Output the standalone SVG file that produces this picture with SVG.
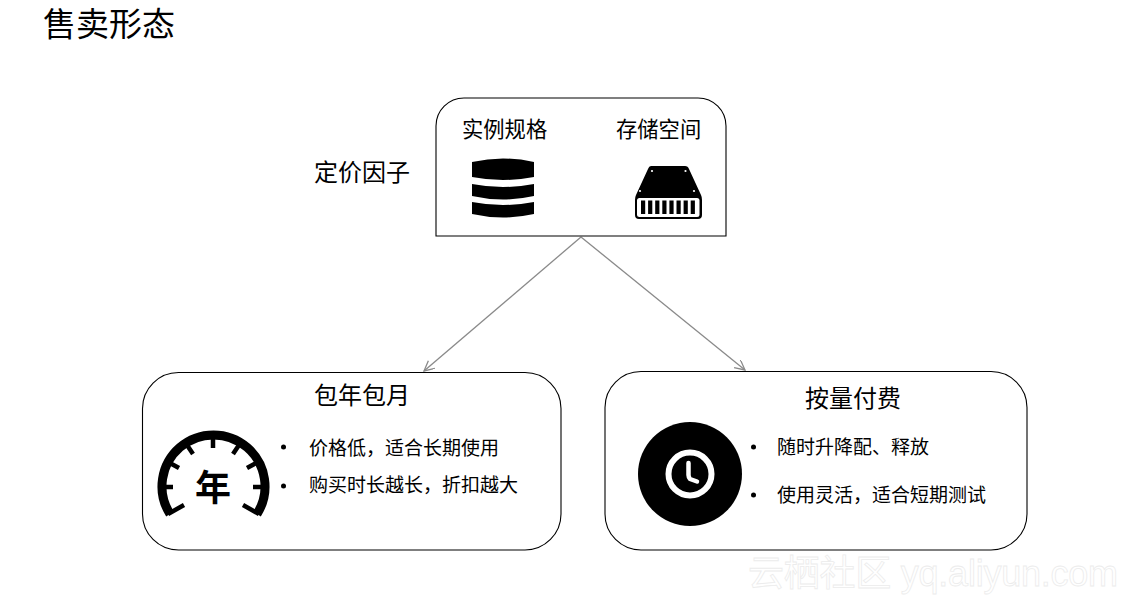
<svg xmlns="http://www.w3.org/2000/svg" width="1129" height="603" viewBox="0 0 1129 603">
  <style>
    text { font-family: "Noto Sans CJK SC", "Liberation Sans", sans-serif; fill: #000; }
    .box { fill: #fff; stroke: #000; stroke-width: 1.1; }
    .link { fill: none; stroke: #8a8a8a; stroke-width: 1.3; marker-end: url(#arrow); }
    .item { font-size: 19px; }
    .head { font-size: 24px; }
    .sub { font-size: 21.300px; }
    .mark { font-family: "Liberation Sans", "Noto Sans CJK SC", sans-serif; font-size: 36px; fill: #fff; stroke: #ececec; stroke-width: 0.8; }
  </style>
  <defs>
    <marker id="arrow" markerWidth="14" markerHeight="12" refX="11" refY="5" orient="auto" markerUnits="userSpaceOnUse">
      <path d="M1 0 L11 5 L1 10" fill="none" stroke="#8a8a8a" stroke-width="1.3"/>
    </marker>
  </defs>
  <rect width="1129" height="603" fill="#fff"/>

  <text id="title" x="43" y="36" font-size="33">售卖形态</text>
  <text id="factor-label" class="head" x="314" y="181">定价因子</text>

  <g id="connectors">
    <line class="link" x1="581" y1="237" x2="424" y2="371"/>
    <line class="link" x1="581" y1="237" x2="745" y2="370"/>
  </g>

  <g id="pricing-factors">
    <path class="box" d="M436 236 V126 A28 28 0 0 1 464 98 H698 A28 28 0 0 1 726 126 V236 Z"/>
    <text class="sub" x="462" y="137">实例规格</text>
    <text class="sub" x="616" y="137">存储空间</text>
    <!-- database stack -->
    <path d="M472 162 Q503 155 534 162 V177 Q503 183 472 177 Z"/>
    <path d="M472 184 Q503 190 534 184 V196 Q503 203 472 196 Z"/>
    <path d="M472 202 Q503 208 534 202 V214 Q503 221 472 214 Z"/>
    <!-- drive -->
    <path d="M651 166 H685 Q688 166 689 169 L701 195 Q702 197 702 200 V215 Q702 219 698 219 H639 Q635 219 635 215 V200 Q635 197 636 195 L648 169 Q649 166 651 166 Z"/>
    <rect x="637" y="198" width="62.500" height="19" rx="2.500" fill="#fff"/>
    <g fill="#000">
      <rect x="641" y="200.500" width="4.200" height="13.500"/>
      <rect x="648.100" y="200.500" width="4.200" height="13.500"/>
      <rect x="655.200" y="200.500" width="4.200" height="13.500"/>
      <rect x="662.300" y="200.500" width="4.200" height="13.500"/>
      <rect x="669.400" y="200.500" width="4.200" height="13.500"/>
      <rect x="676.500" y="200.500" width="4.200" height="13.500"/>
      <rect x="683.600" y="200.500" width="4.200" height="13.500"/>
      <rect x="690.700" y="200.500" width="4.200" height="13.500"/>
    </g>
    <g fill="#fff">
      <circle cx="652" cy="171" r="1.100"/>
      <circle cx="685.500" cy="171" r="1.100"/>
      <circle cx="640" cy="191" r="1.100"/>
      <circle cx="694" cy="191" r="1.100"/>
    </g>
  </g>

  <g id="subscription">
    <rect class="box" x="142.500" y="372.500" width="418.500" height="177.500" rx="36"/>
    <text class="head" x="314" y="404">包年包月</text>
    <!-- gauge -->
    <path d="M170 514 A51.500 51.500 0 1 1 257 514" fill="none" stroke="#000" stroke-width="9"/>
    <path d="M168 514 L184 505 M259 514 L243 505 M160 487 H173 M266 487 H253 M213 436 V448 M187 445 L193 454 M239 445 L233 454 M168 462 L179 468 M258 462 L247 468" fill="none" stroke="#000" stroke-width="4.500"/>
    <text x="213" y="501" font-size="36" font-weight="700" text-anchor="middle">年</text>
    <circle cx="283.500" cy="447" r="2.500"/>
    <circle cx="283.500" cy="486" r="2.500"/>
    <text class="item" x="309" y="455">价格低，适合长期使用</text>
    <text class="item" x="309" y="492">购买时长越长，折扣越大</text>
  </g>

  <g id="pay-as-you-go">
    <rect class="box" x="605" y="371.500" width="422" height="178.500" rx="36"/>
    <text class="head" x="805" y="407">按量付费</text>
    <!-- clock -->
    <circle cx="690" cy="474" r="52"/>
    <circle cx="690" cy="474" r="21.500" fill="none" stroke="#fff" stroke-width="6"/>
    <path d="M688.500 463 V475 Q688.500 477 690 479 L697 481.500" fill="none" stroke="#fff" stroke-width="4.500" stroke-linecap="round" stroke-linejoin="round"/>
    <circle cx="753.500" cy="447" r="2.500"/>
    <circle cx="753.500" cy="495" r="2.500"/>
    <text class="item" x="777" y="454">随时升降配、释放</text>
    <text class="item" x="777" y="502">使用灵活，适合短期测试</text>
  </g>

  <text id="site-mark" class="mark" x="748" y="586" textLength="370">云栖社区 yq.aliyun.com</text>
</svg>
